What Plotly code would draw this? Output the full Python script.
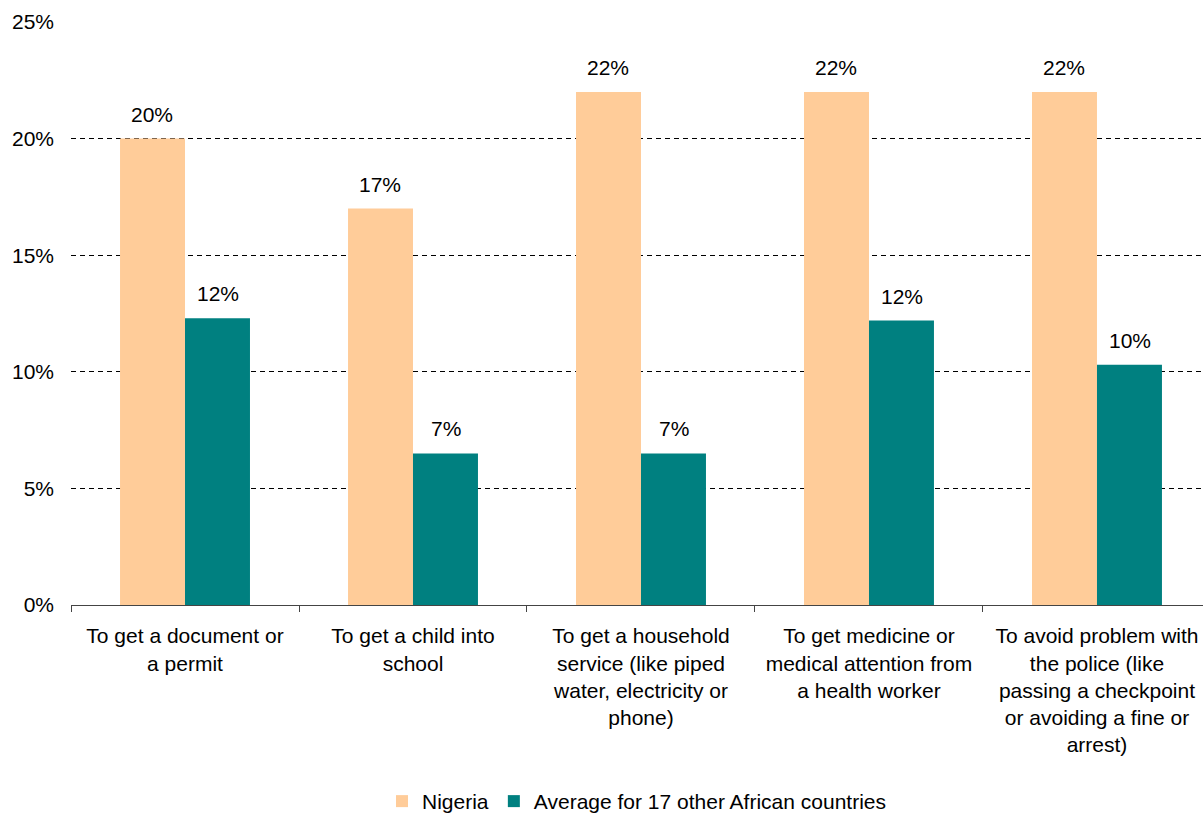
import plotly.graph_objects as go
import math

categories = [
    "To get a document or<br>a permit",
    "To get a child into<br>school",
    "To get a household<br>service (like piped<br>water, electricity or<br>phone)",
    "To get medicine or<br>medical attention from<br>a health worker",
    "To avoid problem with<br>the police (like<br>passing a checkpoint<br>or avoiding a fine or<br>arrest)",
]
nigeria = [0.20, 0.17, 0.22, 0.22, 0.22]
average = [0.123, 0.065, 0.065, 0.122, 0.103]
series_names = ["Nigeria", "Average for 17 other African countries"]
colors = ["#FFCC99", "#008080"]

FONT = "Liberation Sans, Arial, sans-serif"


def pct(v):
    return f"{int(math.floor(v * 100 + 0.5))}%"


fig = go.Figure()
for name, vals, col in zip(series_names, [nigeria, average], colors):
    fig.add_trace(go.Bar(x=categories, y=vals, name=name, marker_color=col,
                         marker_line_width=0))

# data labels as annotations
for vals, shift in [(nigeria, -33), (average, 33)]:
    for c, v in zip(categories, vals):
        fig.add_annotation(x=c, y=v, text=pct(v), showarrow=False,
                           xshift=shift, yanchor="bottom", yshift=11,
                           font=dict(size=21, color="black", family=FONT))

fig.update_layout(
    width=1203, height=817,
    margin=dict(l=71, r=0, t=22, b=212, autoexpand=False),
    paper_bgcolor="white", plot_bgcolor="white",
    barmode="group", bargap=0.43, bargroupgap=0,
    font=dict(family=FONT, size=21, color="black"),
    showlegend=True,
    legend=dict(orientation="h", x=0.5, xanchor="center",
                y=-0.337, yanchor="middle",
                font=dict(size=21), itemwidth=30, tracegroupgap=0),
    xaxis=dict(
        range=[-0.5, 4.465],
        showline=True, linecolor="#444444", linewidth=1,
        ticks="outside", ticklen=6, tickcolor="#444444", tickson="boundaries",
        showgrid=False, ticklabelstandoff=12,
        tickfont=dict(size=21),
    ),
    yaxis=dict(
        range=[0, 0.25], tickvals=[0, 0.05, 0.10, 0.15, 0.20, 0.25],
        ticktext=["0%", "5%", "10%", "15%", "20%", "25%"],
        showgrid=True, gridcolor="black", gridwidth=1, griddash="5px,4px",
        zeroline=False, showline=False, ticks="", ticklabelstandoff=16,
        tickfont=dict(size=21),
    ),
)

fig.write_html("out.html")
